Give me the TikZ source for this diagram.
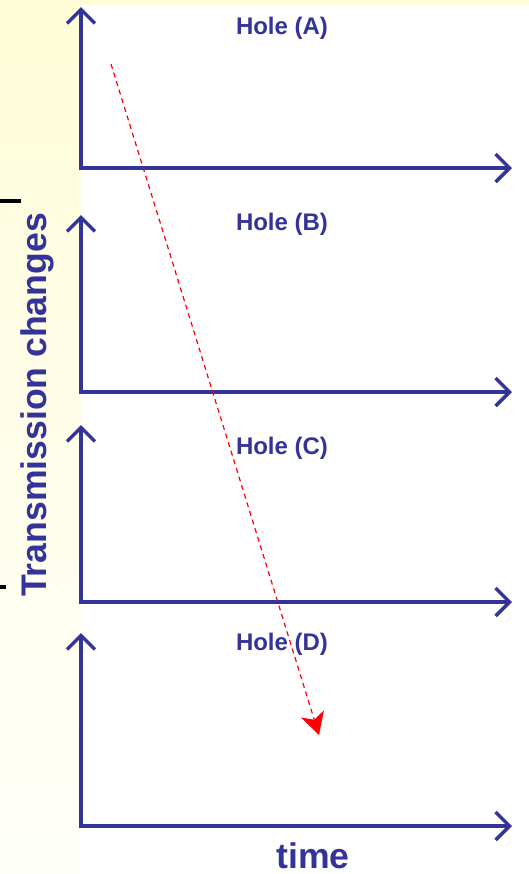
\documentclass[tikz,border=0pt]{standalone}
\usepackage{fontspec}
\setmainfont{Liberation Sans}
\usepackage{tikz}
\usetikzlibrary{arrows.meta,positioning}
\definecolor{axisblue}{RGB}{51,51,153}
\definecolor{slidecream}{RGB}{255,252,216}
\definecolor{slidepale}{RGB}{255,255,250}
\definecolor{pathred}{RGB}{255,0,0}
\tikzset{
  axes/.style={line width=1.7pt,axisblue,
    {Straight Barb[length=7pt,width=14pt]}-{Straight Barb[length=7pt,width=14pt]}},
  holelabel/.style={font=\fontsize{12}{14}\selectfont\bfseries,text=axisblue,inner sep=0pt},
  axislabel/.style={font=\fontsize{17.8}{20}\selectfont\bfseries,text=axisblue,inner sep=0pt},
  drift/.style={line width=0.6pt,pathred,dash pattern=on 2.5pt off 2pt,
    -{Stealth[length=11pt,width=12pt,inset=3pt]}},
  stub/.style={line width=2pt,black}
}

\begin{document}
\begin{tikzpicture}[x=0.5pt,y=-0.5pt]
  \useasboundingbox (0,0) rectangle (529,874);
  \shade[top color=slidecream,bottom color=slidepale] (0,0) rectangle (529,874);
  \fill[white] (81,5) rectangle (529,874);
  % stray marks at the slide edge
  \draw[stub] (0,201) -- (21,201);
  \draw[stub] (0,587) -- (6,587);
  % one pair of axes per hole
  \foreach \name/\top/\base/\laby in {A/7/168/28,B/215/392/224,C/425/602/448,D/633/826/644} {
    \coordinate (top\name) at (81,\top);
    \coordinate (o\name) at (81,\base);
    \coordinate (end\name) at (512,\base);
    \draw[axes] (top\name) -- (o\name) -- (end\name);
    \node[holelabel] (hole\name) at (282,\laby) {Hole (\name)};
  }
  \node[axislabel,rotate=90] (ylab) at (37,405) {Transmission changes};
  \node[axislabel] (xlab) at (313,856) {time};
  % shift of the peak from hole to hole
  \coordinate (driftstart) at (111,64);
  \coordinate (driftend) at (319,735);
  \draw[drift] (driftstart) -- (driftend);
\end{tikzpicture}
\end{document}
